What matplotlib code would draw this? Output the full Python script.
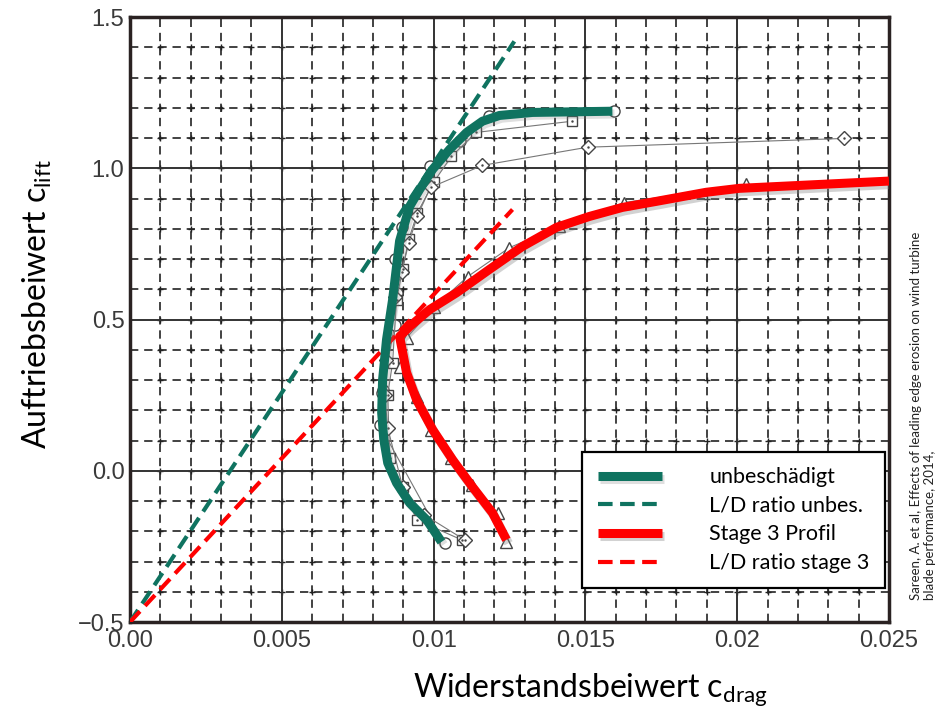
import matplotlib
matplotlib.use('Agg')
import matplotlib.pyplot as plt
import matplotlib.patheffects as pe
from matplotlib.ticker import MultipleLocator, FixedLocator
import numpy as np

# thick green curve (unbeschaedigt) - drag, lift
green_cd = [0.01026, 0.00977, 0.00921, 0.00878, 0.00849, 0.00836, 0.00829, 0.00832,
            0.00845, 0.00855, 0.00865, 0.00888, 0.00921, 0.00954, 0.00997, 0.01053,
            0.01109, 0.01161, 0.01217, 0.01326, 0.01589]
green_cl = [-0.235, -0.162, -0.106, -0.040, 0.026, 0.103, 0.192, 0.301,
            0.434, 0.500, 0.566, 0.760, 0.874, 0.930, 0.997, 1.063,
            1.119, 1.156, 1.175, 1.185, 1.189]

# thick red curve (stage 3 profil)
red_cd = [0.0124, 0.01194, 0.01128, 0.01063, 0.00997, 0.00944, 0.00911, 0.00888,
          0.00921, 0.00987, 0.01076, 0.01184, 0.01293, 0.01405, 0.01513, 0.01622,
          0.01734, 0.01898, 0.02007, 0.025]
red_cl = [-0.228, -0.139, -0.053, 0.036, 0.136, 0.235, 0.325, 0.444,
          0.477, 0.533, 0.589, 0.666, 0.742, 0.805, 0.841, 0.871,
          0.891, 0.921, 0.934, 0.958]

# L/D ratio lines
ld_unbes_cd = [0.0, 0.01266]
ld_unbes_cl = [-0.5, 1.42]
ld_stage3_cd = [0.0, 0.0126]
ld_stage3_cl = [-0.5, 0.864]

# grey measured points from the original paper figure
circ_cd = [0.01036, 0.00822, 0.00829, 0.00832, 0.00872, 0.00878, 0.00872, 0.00895,
           0.00987, 0.01086, 0.01184, 0.01595]
circ_cl = [-0.238, 0.152, 0.258, 0.268, 0.483, 0.589, 0.699, 0.805,
           1.007, 1.089, 1.172, 1.189]
sq_cd = [0.01092, 0.00944, 0.00898, 0.00855, 0.00849, 0.00865, 0.00878, 0.00898,
         0.00918, 0.00947, 0.01, 0.01059, 0.01141, 0.01457]
sq_cl = [-0.228, -0.162, -0.053, 0.043, 0.252, 0.358, 0.566, 0.666,
         0.765, 0.854, 0.954, 1.040, 1.119, 1.156]
dia_cd = [0.01102, 0.0097, 0.00898, 0.00849, 0.00839, 0.00842, 0.00872, 0.00895,
          0.00918, 0.00947, 0.0099, 0.01161, 0.01507, 0.02352]
dia_cl = [-0.228, -0.146, -0.053, 0.142, 0.252, 0.368, 0.576, 0.659,
          0.752, 0.844, 0.937, 1.010, 1.070, 1.099]
tri_cd = [0.0124, 0.01211, 0.01125, 0.01059, 0.00993, 0.00944, 0.00888, 0.00911,
          0.01003, 0.01112, 0.0125, 0.01414, 0.01628, 0.0203]
tri_cl = [-0.235, -0.139, -0.046, 0.043, 0.136, 0.245, 0.344, 0.44,
          0.543, 0.642, 0.738, 0.808, 0.887, 0.947]

x_ticks = [0.0, 0.005, 0.01, 0.015, 0.02, 0.025]
x_labels = ['0.00', '0.005', '0.01', '0.015', '0.02', '0.025']
y_ticks = [-0.5, 0.0, 0.5, 1.0, 1.5]
y_labels = ['\u22120.5', '0.0', '0.5', '1.0', '1.5']

green = '#0f7360'
red = '#ff0000'

fig = plt.figure(figsize=(9.4, 7.15), dpi=100)
ax = fig.add_axes([0.1383, 0.130, 0.8074, 0.846])

ax.set_xlim(0, 0.025)
ax.set_ylim(-0.5, 1.5)

# grid: solid majors, dashed minors with little crosses
ax.xaxis.set_major_locator(FixedLocator(x_ticks))
ax.yaxis.set_major_locator(FixedLocator(y_ticks))
ax.xaxis.set_minor_locator(MultipleLocator(0.001))
ax.yaxis.set_minor_locator(MultipleLocator(0.1))
ax.grid(which='major', color='#333333', linestyle='-', linewidth=1.4)
ax.grid(which='minor', color='#222222', linestyle=(0, (5, 3.5)), linewidth=1.2)
ax.set_axisbelow(True)
mx = np.arange(0.001, 0.025, 0.001)
my = np.arange(-0.4, 1.5, 0.1)
gx, gy = np.meshgrid(mx, my)
ax.plot(gx.ravel(), gy.ravel(), ls='none', marker='+', ms=5, mew=1.0, color='#222222', zorder=0.5)

# grey paper data
grey_kw = dict(color='#777777', lw=0.8, mfc='white', mec='#444444', mew=1.0, zorder=2)
ax.plot(circ_cd, circ_cl, marker='o', ms=8, **grey_kw)
ax.plot(sq_cd, sq_cl, marker='s', ms=7, **grey_kw)
ax.plot(dia_cd, dia_cl, marker='D', ms=7, **grey_kw)
ax.plot(tri_cd, tri_cl, marker='^', ms=8, **grey_kw)
for xs, ys in [(sq_cd, sq_cl), (dia_cd, dia_cl)]:
    ax.plot(xs, ys, ls='none', marker='.', ms=1.5, color='#444444', zorder=2.1)

# main curves
ax.plot(green_cd, green_cl, color=green, lw=6.5, solid_capstyle='butt', solid_joinstyle='round',
        zorder=4, label='unbeschädigt',
        path_effects=[pe.SimpleLineShadow(offset=(1.5, -2), shadow_color='gray', alpha=0.25), pe.Normal()])
ax.plot(ld_unbes_cd, ld_unbes_cl, color=green, lw=3, ls=(0, (3.5, 1.8)), zorder=3,
        label='L/D ratio unbes.')
ax.plot(red_cd, red_cl, color=red, lw=6.5, solid_capstyle='butt', solid_joinstyle='round',
        zorder=4, label='Stage 3 Profil',
        path_effects=[pe.SimpleLineShadow(offset=(1.5, -2.5), shadow_color='gray', alpha=0.35), pe.Normal()])
ax.plot(ld_stage3_cd, ld_stage3_cl, color=red, lw=3, ls=(0, (3.5, 1.8)), zorder=3,
        label='L/D ratio stage 3')

# ticks
ax.set_xticks(x_ticks)
ax.set_xticklabels(x_labels)
ax.set_yticks(y_ticks)
ax.set_yticklabels(y_labels)
ax.tick_params(axis='both', which='both', length=0, labelsize=17, labelcolor='#3a3a3a')
ax.tick_params(axis='x', pad=6)
ax.tick_params(axis='y', pad=4)
for lab in ax.get_xticklabels() + ax.get_yticklabels():
    lab.set_family('Liberation Sans')

for sp in ax.spines.values():
    sp.set_linewidth(2.5)
    sp.set_color('#2a2222')

leg = ax.legend(loc='lower right', bbox_to_anchor=(0.9947, 0.056), borderaxespad=0,
                prop={'family': 'Lato', 'size': 15.5}, handlelength=3.0, handletextpad=2.2,
                labelspacing=0.4, borderpad=0.7, fancybox=False, framealpha=1, edgecolor='black')
leg.get_frame().set_linewidth(1.6)
leg.set_zorder(10)

# axis labels
fig.text(0.628, 0.035, r'Widerstandsbeiwert c$_{\mathregular{drag}}$', ha='center', va='center',
         fontsize=23, family='Lato')
fig.text(0.040, 0.575, r'Auftriebsbeiwert c$_{\mathregular{lift}}$', ha='center', va='center',
         fontsize=23, family='Lato', rotation=90)

# citation
fig.text(0.982, 0.161, 'Sareen, A. et al, Effects of leading edge erosion on wind turbine\nblade performance, 2014,',
         rotation=90, ha='center', va='bottom', multialignment='left', fontsize=9.5, family='Lato',
         color='#222222')

plt.savefig('out.png', dpi=100)
